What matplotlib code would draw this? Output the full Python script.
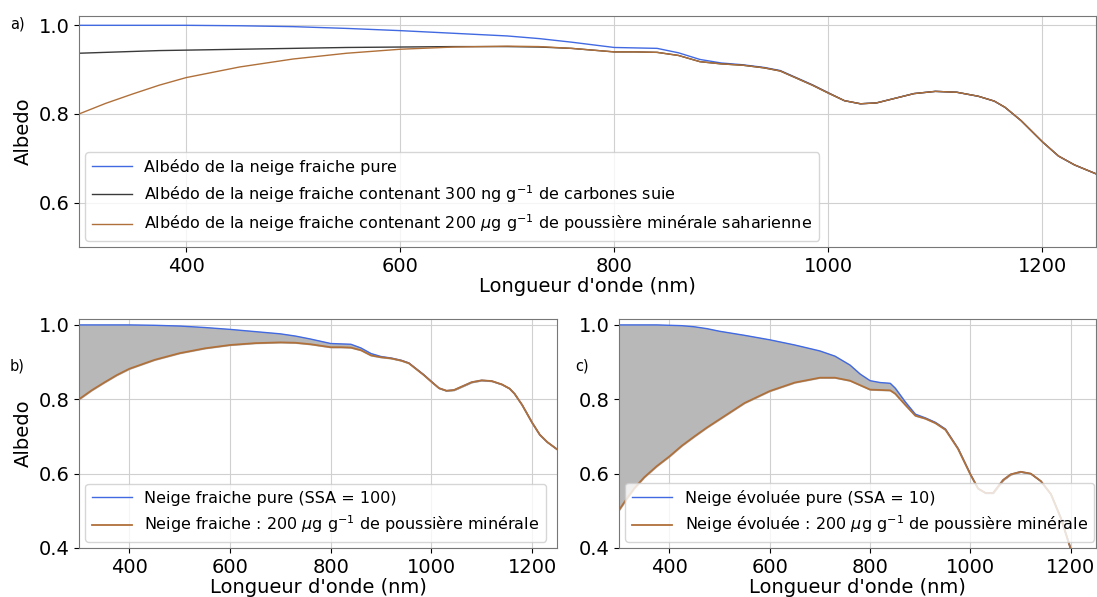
import matplotlib.pyplot as plt

# longueurs d'onde (nm) et albédos
wl_fresh = [300, 325, 350, 375, 400, 450, 500, 550, 600, 650, 700, 730, 760, 790, 800, 820,
            840, 860, 880, 900, 920, 940, 955, 970, 985, 1000, 1015, 1030, 1045, 1060, 1080,
            1100, 1120, 1140, 1155, 1165, 1180, 1200, 1215, 1230, 1250]
fresh_pure = [1.000, 1.000, 1.000, 1.000, 1.000, 0.999, 0.997, 0.993, 0.988, 0.982, 0.976,
              0.970, 0.962, 0.953, 0.950, 0.949, 0.948, 0.938, 0.923, 0.915, 0.911, 0.905,
              0.898, 0.882, 0.866, 0.848, 0.830, 0.823, 0.825, 0.834, 0.846, 0.851, 0.849,
              0.840, 0.829, 0.815, 0.785, 0.737, 0.705, 0.685, 0.665]
fresh_soot = [0.937, 0.939, 0.941, 0.943, 0.944, 0.946, 0.948, 0.950, 0.951, 0.952, 0.952,
              0.951, 0.948, 0.942, 0.940, 0.940, 0.939, 0.932, 0.918, 0.913, 0.910, 0.904,
              0.897, 0.881, 0.865, 0.847, 0.830, 0.823, 0.825, 0.834, 0.846, 0.851, 0.849,
              0.840, 0.829, 0.815, 0.785, 0.737, 0.705, 0.685, 0.665]
fresh_dust = [0.800, 0.824, 0.845, 0.865, 0.882, 0.906, 0.924, 0.937, 0.946, 0.951, 0.953,
              0.952, 0.948, 0.942, 0.940, 0.940, 0.939, 0.932, 0.918, 0.913, 0.910, 0.904,
              0.897, 0.881, 0.865, 0.847, 0.830, 0.823, 0.825, 0.834, 0.846, 0.851, 0.849,
              0.840, 0.829, 0.815, 0.785, 0.737, 0.705, 0.685, 0.665]

wl_aged = [300, 315, 330, 350, 375, 400, 425, 450, 475, 500, 550, 600, 650, 700, 730, 760,
           780, 800, 820, 840, 850, 870, 890, 910, 930, 950, 975, 1000, 1015, 1030, 1045,
           1065, 1080, 1100, 1120, 1140, 1160, 1180, 1200, 1225, 1250]
aged_pure = [1.000, 1.000, 1.000, 1.000, 1.000, 0.999, 0.998, 0.995, 0.990, 0.983, 0.972,
             0.960, 0.946, 0.930, 0.916, 0.892, 0.868, 0.850, 0.845, 0.843, 0.830, 0.793,
             0.760, 0.750, 0.738, 0.720, 0.668, 0.598, 0.560, 0.548, 0.548, 0.583, 0.598,
             0.605, 0.600, 0.580, 0.545, 0.480, 0.395, 0.340, 0.300]
aged_dust = [0.502, 0.532, 0.560, 0.590, 0.620, 0.646, 0.675, 0.700, 0.724, 0.746, 0.790,
             0.822, 0.845, 0.858, 0.858, 0.850, 0.838, 0.826, 0.825, 0.824, 0.815, 0.785,
             0.756, 0.748, 0.736, 0.718, 0.667, 0.597, 0.560, 0.548, 0.548, 0.583, 0.598,
             0.605, 0.600, 0.580, 0.545, 0.480, 0.395, 0.340, 0.300]

c_pure = "royalblue"
c_soot = "#3a3a3a"
c_dust = "#b0703a"

fig = plt.figure(figsize=(10.97, 5.97), dpi=100)

ax1 = fig.add_axes([0.0720, 0.5863, 0.9271, 0.3869])
ax2 = fig.add_axes([0.0720, 0.0821, 0.4360, 0.3836])
ax3 = fig.add_axes([0.5643, 0.0821, 0.4348, 0.3836])

# a) neige fraiche
ax1.plot(wl_fresh, fresh_pure, color=c_pure, lw=1, label="Albédo de la neige fraiche pure")
ax1.plot(wl_fresh, fresh_soot, color=c_soot, lw=1,
         label="Albédo de la neige fraiche contenant 300 ng g$^{-1}$ de carbones suie")
ax1.plot(wl_fresh, fresh_dust, color=c_dust, lw=1,
         label="Albédo de la neige fraiche contenant 200 $\\mu$g g$^{-1}$ de poussière minérale saharienne")
ax1.set_ylim(0.5, 1.021)
ax1.set_yticks([0.6, 0.8, 1.0])
ax1.set_ylabel("Albedo", fontsize=14)

# b) neige fraiche, SSA 100
ax2.fill_between(wl_fresh, fresh_dust, fresh_pure, color="#b8b8b8")
ax2.plot(wl_fresh, fresh_pure, color=c_pure, lw=1, label="Neige fraiche pure (SSA = 100)")
ax2.plot(wl_fresh, fresh_dust, color=c_dust, lw=1.3,
         label="Neige fraiche : 200 $\\mu$g g$^{-1}$ de poussière minérale")
ax2.set_ylabel("Albedo", fontsize=14)

# c) neige évoluée, SSA 10
ax3.fill_between(wl_aged, aged_dust, aged_pure, color="#b8b8b8")
ax3.plot(wl_aged, aged_pure, color=c_pure, lw=1, label="Neige évoluée pure (SSA = 10)")
ax3.plot(wl_aged, aged_dust, color=c_dust, lw=1.3,
         label="Neige évoluée : 200 $\\mu$g g$^{-1}$ de poussière minérale")

for ax in (ax2, ax3):
    ax.set_ylim(0.4, 1.016)
    ax.set_yticks([0.4, 0.6, 0.8, 1.0])

for ax in (ax1, ax2, ax3):
    ax.set_xlim(300, 1250)
    ax.set_xticks([400, 600, 800, 1000, 1200])
    ax.grid(True, color="#d0d0d0", lw=0.8)
    ax.set_axisbelow(True)
    ax.tick_params(labelsize=14)
    ax.set_xlabel("Longueur d'onde (nm)", fontsize=14, labelpad=1)
    for s in ax.spines.values():
        s.set_color("#777777")
    ax.legend(loc="lower left", fontsize=11.5, handlelength=2.5, borderaxespad=0.4)

fig.text(0.009, 0.952, "a)", fontsize=10.5)
fig.text(0.009, 0.380, "b)", fontsize=10.5)
fig.text(0.524, 0.380, "c)", fontsize=10.5)

fig.savefig("out.png", dpi=100)
